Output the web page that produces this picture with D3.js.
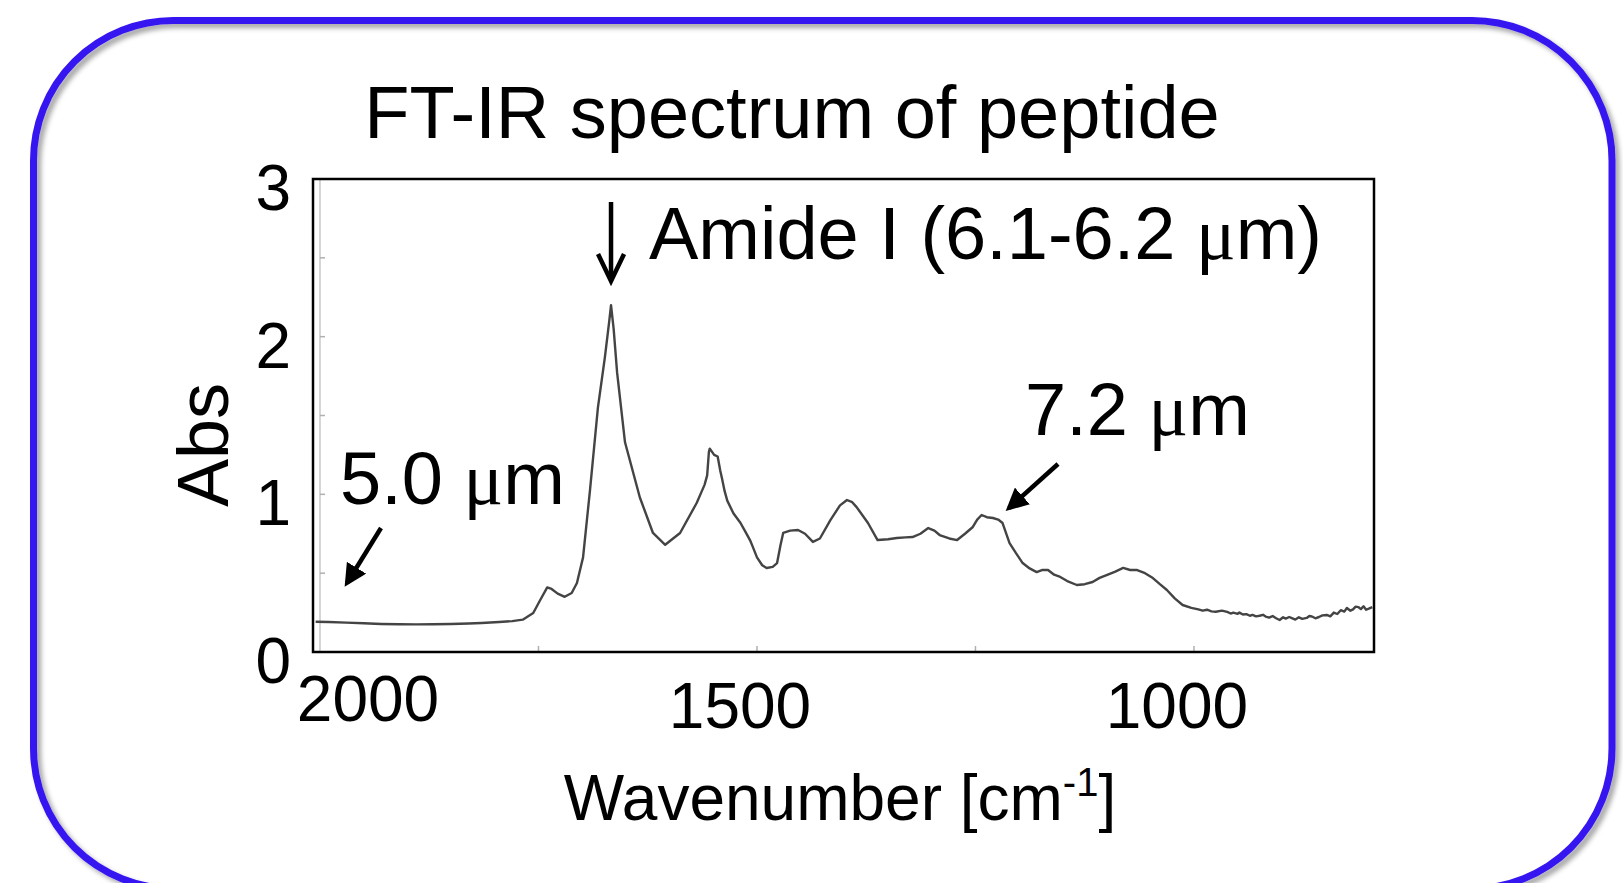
<!DOCTYPE html>
<html>
<head>
<meta charset="utf-8">
<script src="https://cdn.jsdelivr.net/npm/d3@7"></script>
<style>
  html, body { margin: 0; padding: 0; background: #fff; overflow: hidden; }
  svg text { font-family: "Liberation Sans", Arial, Helvetica, sans-serif; fill: #000; }
  svg text tspan.mu { font-family: "Liberation Serif", "DejaVu Serif", serif; }
</style>
</head>
<body>
<div id="chart"></div>
<script>
// spectrum (wavenumber in cm-1, absorbance)
const wavenumbers = [
  2005, 1990, 1970, 1950, 1930, 1910, 1890, 1870, 1850, 1830, 1815, 1795, 1780, 1768,
  1756, 1748, 1740, 1735, 1728, 1720, 1712, 1706, 1699, 1691, 1682, 1674, 1669, 1667,
  1664, 1660, 1651, 1634, 1619, 1605, 1588, 1569, 1560, 1557, 1555, 1554, 1549, 1545,
  1542, 1540, 1537, 1534, 1527, 1519, 1513, 1508, 1505, 1500, 1494, 1489, 1482, 1477,
  1473, 1470, 1462, 1453, 1445, 1436, 1428, 1416, 1405, 1397, 1391, 1386, 1373, 1362,
  1350, 1340, 1330, 1322, 1313, 1304, 1297, 1291, 1280, 1271, 1262, 1253, 1248, 1243,
  1237, 1230, 1224, 1219, 1211, 1204, 1196, 1188, 1180, 1174, 1167, 1160, 1153, 1145,
  1134, 1125, 1116, 1108, 1100, 1090, 1081, 1073, 1065, 1056, 1047, 1039, 1031, 1022,
  1013, 1003, 995, 990, 985, 980, 975, 968, 962, 958, 955, 950, 948, 944, 940, 936,
  933, 929, 925, 921, 918, 914, 910, 906, 902, 898, 895, 891, 888, 884, 880, 876,
  871, 868, 865, 861, 857, 853, 848, 844, 840, 836, 832, 828, 825, 821, 818, 815,
  812, 809, 806, 803, 800, 796
];
const absorbance = [
  0.192, 0.190, 0.186, 0.182, 0.178, 0.176, 0.175, 0.176, 0.178, 0.181, 0.184, 0.190, 0.196, 0.205,
  0.247, 0.330, 0.410, 0.400, 0.370, 0.350, 0.374, 0.438, 0.600, 1.030, 1.550, 1.870, 2.100, 2.200,
  2.050, 1.770, 1.330, 0.980, 0.755, 0.680, 0.755, 0.945, 1.060, 1.120, 1.270, 1.290, 1.250, 1.240,
  1.150, 1.100, 1.020, 0.960, 0.880, 0.820, 0.760, 0.710, 0.670, 0.600, 0.550, 0.533, 0.540, 0.564,
  0.680, 0.755, 0.770, 0.774, 0.750, 0.698, 0.720, 0.837, 0.930, 0.964, 0.950, 0.919, 0.818, 0.710,
  0.715, 0.723, 0.727, 0.729, 0.750, 0.786, 0.770, 0.742, 0.720, 0.710, 0.750, 0.793, 0.840, 0.869,
  0.855, 0.850, 0.840, 0.818, 0.691, 0.630, 0.564, 0.530, 0.507, 0.520, 0.520, 0.490, 0.476, 0.450,
  0.425, 0.430, 0.444, 0.470, 0.488, 0.510, 0.533, 0.520, 0.520, 0.500, 0.469, 0.430, 0.393, 0.340,
  0.298, 0.280, 0.270, 0.262, 0.268, 0.258, 0.255, 0.262, 0.254, 0.244, 0.250, 0.242, 0.250, 0.238,
  0.240, 0.230, 0.235, 0.226, 0.230, 0.236, 0.225, 0.218, 0.228, 0.214, 0.203, 0.220, 0.212, 0.222,
  0.215, 0.206, 0.220, 0.210, 0.216, 0.228, 0.225, 0.214, 0.222, 0.232, 0.235, 0.226, 0.250, 0.241,
  0.265, 0.256, 0.279, 0.262, 0.270, 0.288, 0.285, 0.272, 0.290, 0.268, 0.275, 0.285
];
const yTicks = [0, 1, 2, 3];
const xTicks = [2000, 1500, 1000];
const xMinorTicks = [1750, 1500, 1250, 1000];
const yMinorTicks = [0.5, 1, 1.5, 2, 2.5];

const width = 1623;
const height = 883;
const plot = { left: 313, right: 1374, top: 179, bottom: 652 };

const svg = d3.select("#chart")
  .append("svg")
  .attr("width", width)
  .attr("height", height);

const defs = svg.append("defs");
const shadow = defs.append("filter")
  .attr("id", "shadow")
  .attr("x", "-5%").attr("y", "-5%")
  .attr("width", "110%").attr("height", "110%");
shadow.append("feDropShadow")
  .attr("dx", 4).attr("dy", 4)
  .attr("stdDeviation", 2.5)
  .attr("flood-color", "#000")
  .attr("flood-opacity", 0.35);

const arrowHead = defs.append("marker")
  .attr("id", "head")
  .attr("viewBox", "0 0 10 10")
  .attr("refX", 8).attr("refY", 5)
  .attr("markerWidth", 5).attr("markerHeight", 5)
  .attr("markerUnits", "strokeWidth")
  .attr("orient", "auto");
arrowHead.append("path")
  .attr("d", "M0,0 L10,5 L0,10 Z")
  .attr("fill", "#000");

// blue rounded frame
svg.append("rect")
  .attr("x", 33.5)
  .attr("y", 20.5)
  .attr("width", 1578.5)
  .attr("height", 868)
  .attr("rx", 140)
  .attr("fill", "none")
  .attr("stroke", "#3614f0")
  .attr("stroke-width", 7)
  .attr("filter", "url(#shadow)");

const x = d3.scaleLinear()
  .domain([2008, 794])
  .range([plot.left, plot.right]);

const y = d3.scaleLinear()
  .domain([0, 3])
  .range([plot.bottom, plot.top]);

// faint inner axis of the original plot
svg.append("line")
  .attr("x1", x(2000)).attr("x2", x(2000))
  .attr("y1", plot.top).attr("y2", plot.bottom)
  .attr("stroke", "#c8c8c8")
  .attr("stroke-width", 1.5);

svg.selectAll(".ytick-minor")
  .data(yMinorTicks)
  .join("line")
  .attr("class", "ytick-minor")
  .attr("x1", x(2000)).attr("x2", x(2000) + 5)
  .attr("y1", d => y(d)).attr("y2", d => y(d))
  .attr("stroke", "#b0b0b0")
  .attr("stroke-width", 1.5);

svg.selectAll(".xtick-minor")
  .data(xMinorTicks)
  .join("line")
  .attr("class", "xtick-minor")
  .attr("x1", d => x(d)).attr("x2", d => x(d))
  .attr("y1", plot.bottom).attr("y2", plot.bottom - 6)
  .attr("stroke", "#b0b0b0")
  .attr("stroke-width", 1.5);

// spectrum
const points = wavenumbers.map((w, i) => [w, absorbance[i]]);
const line = d3.line()
  .x(d => x(d[0]))
  .y(d => y(d[1]));

svg.append("path")
  .datum(points)
  .attr("d", line)
  .attr("fill", "none")
  .attr("stroke", "#444")
  .attr("stroke-width", 2.4)
  .attr("stroke-linejoin", "round");

// plot frame
svg.append("rect")
  .attr("x", plot.left)
  .attr("y", plot.top)
  .attr("width", plot.right - plot.left)
  .attr("height", plot.bottom - plot.top)
  .attr("fill", "none")
  .attr("stroke", "#000")
  .attr("stroke-width", 2.5);

// tick labels
svg.selectAll(".ylab")
  .data(yTicks)
  .join("text")
  .attr("class", "ylab")
  .attr("x", 291)
  .attr("y", d => y(d) + 31)
  .attr("text-anchor", "end")
  .style("font-size", "64px")
  .text(d => d);

svg.selectAll(".xlab")
  .data(xTicks)
  .join("text")
  .attr("class", "xlab")
  .attr("x", d => x(d) + (d === 2000 ? 48 : -17))
  .attr("y", d => d === 2000 ? 721 : 728)
  .attr("text-anchor", "middle")
  .style("font-size", "64px")
  .text(d => d);

// title
svg.append("text")
  .attr("x", 792)
  .attr("y", 138)
  .attr("text-anchor", "middle")
  .style("font-size", "74px")
  .text("FT-IR spectrum of peptide");

// axis titles
svg.append("text")
  .attr("transform", "translate(228,445) rotate(-90)")
  .attr("text-anchor", "middle")
  .style("font-size", "72px")
  .text("Abs");

const xTitle = svg.append("text")
  .attr("x", 840)
  .attr("y", 820)
  .attr("text-anchor", "middle")
  .style("font-size", "64px");
xTitle.append("tspan").text("Wavenumber [cm");
xTitle.append("tspan").attr("dy", -24).style("font-size", "40px").text("-1");
xTitle.append("tspan").attr("dy", 24).text("]");

// annotations with a serif micro sign
function muLabel(xPos, yPos, before, after) {
  const t = svg.append("text")
    .attr("x", xPos)
    .attr("y", yPos)
    .style("font-size", "74px");
  t.append("tspan").text(before);
  t.append("tspan").attr("class", "mu").text("\u03bc");
  t.append("tspan").text(after);
  return t;
}

muLabel(649, 259, "Amide I (6.1-6.2 ", "m)");
muLabel(340, 504, "5.0 ", "m");
muLabel(1025, 435, "7.2 ", "m");

// amide I down arrow
const ax = x(1667);
svg.append("line")
  .attr("x1", ax).attr("x2", ax)
  .attr("y1", 202).attr("y2", 279)
  .attr("stroke", "#000")
  .attr("stroke-width", 4.5);
svg.append("path")
  .attr("d", `M${ax - 13},254 L${ax},281 L${ax + 13},254`)
  .attr("fill", "none")
  .attr("stroke", "#000")
  .attr("stroke-width", 4.5)
  .attr("stroke-linejoin", "miter");

// slanted arrows
svg.append("line")
  .attr("x1", 381).attr("y1", 528)
  .attr("x2", 347).attr("y2", 583)
  .attr("stroke", "#000")
  .attr("stroke-width", 4.5)
  .attr("marker-end", "url(#head)");

svg.append("line")
  .attr("x1", 1058).attr("y1", 464)
  .attr("x2", 1009).attr("y2", 508)
  .attr("stroke", "#000")
  .attr("stroke-width", 4.5)
  .attr("marker-end", "url(#head)");
</script>
</body>
</html>
